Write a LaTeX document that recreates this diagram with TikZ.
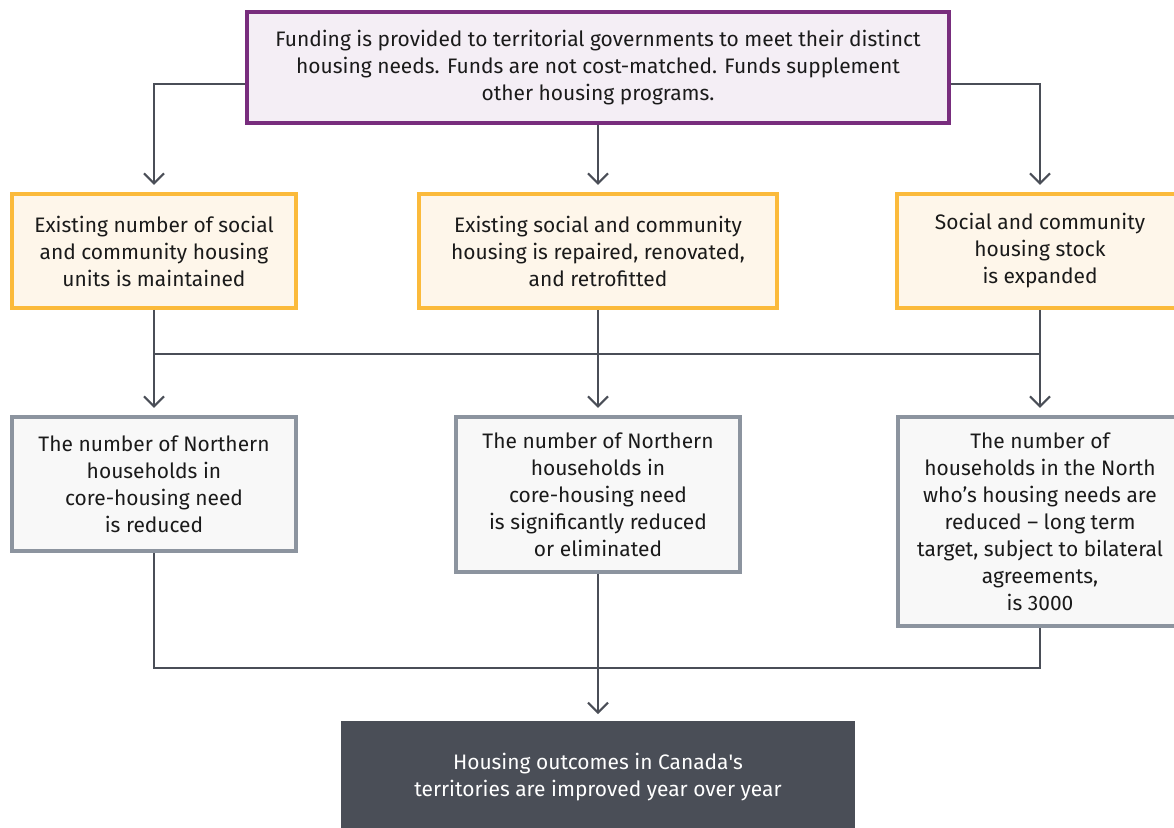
\documentclass[tikz,border=0pt]{standalone}
\usepackage{fontspec}
\setmainfont{Fira Sans}
\usetikzlibrary{arrows.meta}

\definecolor{fundline}{RGB}{120,45,125}
\definecolor{fundfill}{RGB}{244,238,245}
\definecolor{actline}{RGB}{251,186,59}
\definecolor{actfill}{RGB}{254,246,234}
\definecolor{resline}{RGB}{140,148,159}
\definecolor{resfill}{RGB}{248,248,248}
\definecolor{darkslate}{RGB}{74,78,87}
\definecolor{inktext}{RGB}{26,26,26}

\begin{document}
\begin{tikzpicture}[
  x=0.025cm, y=-0.025cm,
  every node/.style={font=\fontsize{14.9}{19.2}\selectfont, text=inktext},
  input/.style={rectangle, draw=fundline, fill=fundfill, line width=2.8pt, minimum width=17.525cm, minimum height=2.775cm, align=center},
  activity/.style={rectangle, draw=actline, fill=actfill, line width=2.8pt, minimum height=2.85cm, align=center},
  result/.style={rectangle, draw=resline, fill=resfill, line width=2.8pt, minimum width=7.1cm, align=center},
  final/.style={rectangle, fill=darkslate, text=white, minimum width=12.85cm, minimum height=2.775cm, align=center},
  link/.style={draw=darkslate, line width=1.5pt},
  arrow/.style={link, -{Straight Barb[length=0.25cm, width=0.5cm, line width=1.5pt]}, shorten >=0.18cm}
]
\useasboundingbox (0,0) rectangle (1174,827);

\node[input] (fund) at (598,67.5) {Funding is provided to territorial governments to meet their distinct \\ housing needs. Funds are not cost-matched. Funds supplement \\ other housing programs.};

\node[activity, minimum width=7.1cm] (maintain) at (154,251) {Existing number of social \\ and community housing \\ units is maintained};
\node[activity, minimum width=8.925cm] (repair) at (598,251) {Existing social and community \\ housing is repaired, renovated, \\ and retrofitted};
\node[activity, minimum width=7.15cm] (expand) at (1040,251) {Social and community \\ housing stock \\ is expanded};

\node[result, minimum height=3.35cm] (reduced) at (154,484) {The number of Northern \\ households in \\ core-housing need \\ is reduced};
\node[result, minimum height=3.875cm] (eliminated) at (598,494.5) {The number of Northern \\ households in \\ core-housing need \\ is significantly reduced \\ or eliminated};
\node[result, minimum height=5.225cm] (target) at (1040,521.5) {The number of \\ households in the North \\ who’s housing needs are \\ reduced – long term \\ target, subject to bilateral \\ agreements, \\ is 3000};

\node[final] (outcome) at (598,777) {Housing outcomes in Canada\textquotesingle s \\ territories are improved year over year};

\coordinate (splitL) at (154,354);
\coordinate (splitR) at (1040,354);
\coordinate (joinR) at (1040,668);

\draw[arrow] ([yshift=-0.41cm]fund.west) -| (maintain);
\draw[arrow] (fund) -- (repair);
\draw[arrow] ([yshift=-0.41cm]fund.east) -| (expand);

\draw[arrow] (maintain) -- (reduced);
\draw[arrow] (repair) -- (eliminated);
\draw[arrow] (expand) -- (target);
\draw[link] (splitL) -- (splitR);

\draw[link] (reduced) |- (joinR) -- (target);
\draw[arrow] (eliminated) -- (outcome);

\end{tikzpicture}
\end{document}
